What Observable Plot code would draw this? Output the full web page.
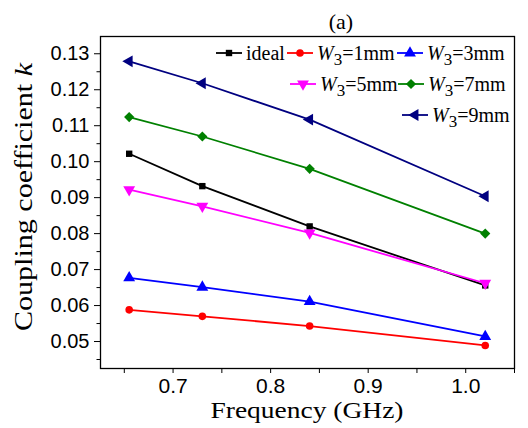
<!DOCTYPE html>
<html><head><meta charset="utf-8">
<script src="https://cdn.jsdelivr.net/npm/d3@7"></script>
<script src="https://cdn.jsdelivr.net/npm/@observablehq/plot@0.6"></script>
<style>body{margin:0;background:#fff} #chart{width:528px;height:428px}</style>
</head><body><div id="chart"></div>
<script>
// Data
const freq = [0.655, 0.730, 0.840, 1.020];
const seriesNames = ["ideal", "1", "3", "5", "7", "9"];
const ideal = [0.1022, 0.0932, 0.0820, 0.0656];
const w1 = [0.0588, 0.0570, 0.0543, 0.0489];
const w3 = [0.0677, 0.0651, 0.0611, 0.0514];
const w5 = [0.0922, 0.0876, 0.0802, 0.0662];
const w7 = [0.1124, 0.1070, 0.0980, 0.0800];
const w9 = [0.1279, 0.1218, 0.1117, 0.0904];
const colors = ["#000000", "#ff0000", "#0000ff", "#ff00ff", "#008000", "#000080"];
const yTicks = [0.05, 0.06, 0.07, 0.08, 0.09, 0.10, 0.11, 0.12, 0.13];
const yMinor = [0.045, 0.055, 0.065, 0.075, 0.085, 0.095, 0.105, 0.115, 0.125];
const xTicks = [0.7, 0.8, 0.9, 1.0];
const xMinor = [0.65, 0.75, 0.85, 0.95, 1.05];

const sq3 = Math.sqrt(3);
const triDown = {draw(ctx, size) {const y = -Math.sqrt(size / (sq3 * 3)); ctx.moveTo(0, -y * 2); ctx.lineTo(-sq3 * y, y); ctx.lineTo(sq3 * y, y); ctx.closePath();}};
const triLeft = {draw(ctx, size) {const y = -Math.sqrt(size / (sq3 * 3)); ctx.moveTo(y * 2, 0); ctx.lineTo(-y, -sq3 * y); ctx.lineTo(-y, sq3 * y); ctx.closePath();}};
const symbols = ["square", "circle", "triangle", triDown, "diamond2", triLeft];
const sizes = [3.6, 3.8, 4.4, 4.4, 4.6, 4.4];
const allValues = [ideal, w1, w3, w5, w7, w9];

const serif = "'Liberation Serif','Times New Roman',serif";
const sans = "'Liberation Sans',Arial,sans-serif";

const marks = [];
allValues.forEach((vals, si) => {
  const rows = freq.map((f, i) => ({f, k: vals[i]}));
  marks.push(Plot.line(rows, {x: "f", y: "k", stroke: colors[si], strokeWidth: 1.8}));
  marks.push(Plot.dot(rows, {x: "f", y: "k", fill: colors[si], stroke: "none", symbol: symbols[si], r: sizes[si]}));
});

const plot = Plot.plot({
  width: 528, height: 428,
  marginLeft: 100, marginRight: 14, marginTop: 36, marginBottom: 60,
  style: {fontFamily: sans, fontSize: "20px", background: "#fff", color: "#000"},
  x: {domain: [0.6256, 1.05], label: null},
  y: {domain: [0.0425, 0.1348], label: null},
  marks: [
    Plot.axisY(yTicks, {tickSize: 6, tickPadding: 5, tickFormat: d3.format(".2f"), fontSize: 20, label: null}),
    Plot.axisY(yMinor, {tickSize: 3.5, tickFormat: () => "", label: null}),
    Plot.axisX(xTicks, {tickSize: 5, tickPadding: 5, tickFormat: d3.format(".1f"), fontSize: 21, label: null}),
    Plot.axisX(xMinor, {tickSize: 5, tickFormat: () => "", label: null}),
    ...marks,
    Plot.frame({stroke: "#000", strokeWidth: 1.3})
  ]
});
document.getElementById("chart").appendChild(plot);

const svg = d3.select(plot);
// title
svg.append("text").attr("x", 341).attr("y", 29).attr("text-anchor", "middle")
  .attr("font-family", serif).attr("font-size", 22).text("(a)");
// axis titles
svg.append("text").attr("x", 307).attr("y", 418).attr("text-anchor", "middle")
  .attr("font-family", serif).attr("font-size", 24)
  .attr("textLength", 193).attr("lengthAdjust", "spacingAndGlyphs").text("Frequency (GHz)");
const yl = svg.append("text").attr("transform", "translate(32,197) rotate(-90)").attr("text-anchor", "middle")
  .attr("font-family", serif).attr("font-size", 26)
  .attr("textLength", 268).attr("lengthAdjust", "spacingAndGlyphs");
yl.append("tspan").text("Coupling coefficient ");
yl.append("tspan").attr("font-style", "italic").text("k");

// legend
const legendPos = [[216, 53], [287, 53], [397, 53], [290, 84], [398, 84], [402, 115]];
const lg = svg.append("g").attr("font-family", serif).attr("font-size", 20).attr("text-anchor", "start");
seriesNames.forEach((name, i) => {
  const [x, y] = legendPos[i];
  lg.append("line").attr("x1", x).attr("x2", x + 26).attr("y1", y).attr("y2", y)
    .attr("stroke", colors[i]).attr("stroke-width", 1.8);
  const sym = typeof symbols[i] === "string" ? {square: d3.symbolSquare, circle: d3.symbolCircle, triangle: d3.symbolTriangle, diamond2: d3.symbolDiamond2}[symbols[i]] : symbols[i];
  lg.append("path").attr("transform", `translate(${x + 13},${y})`)
    .attr("d", d3.symbol(sym, Math.PI * sizes[i] * sizes[i])()).attr("fill", colors[i]);
  const t = lg.append("text").attr("x", x + 30).attr("y", y + 7).attr("text-anchor", "start");
  if (name === "ideal") t.text("ideal");
  else {
    t.append("tspan").attr("font-style", "italic").text("W");
    t.append("tspan").attr("font-size", 17).attr("dy", 5).text("3");
    t.append("tspan").attr("dy", -5).text("=" + name + "mm");
  }
});
</script></body></html>
